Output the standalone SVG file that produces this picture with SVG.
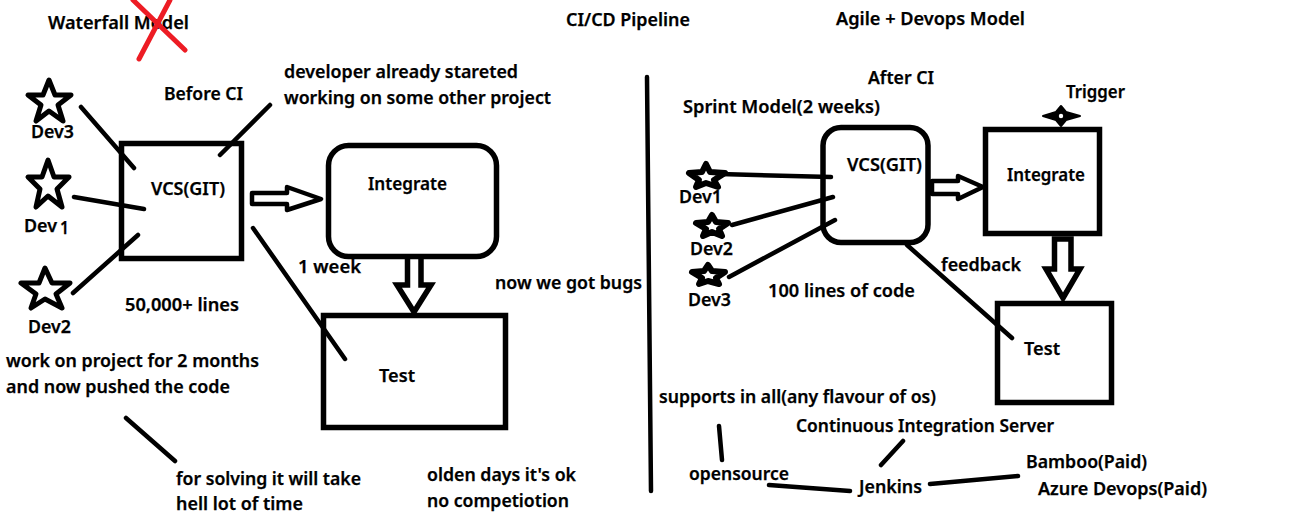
<svg xmlns="http://www.w3.org/2000/svg" width="1314" height="520" viewBox="0 0 1314 520">
<style>
text{font-family:"Noto Sans","Liberation Sans",sans-serif;font-weight:600;font-size:17.5px;fill:#000;stroke:#000;stroke-width:.25px}
.s{fill:#fff;stroke:#000;stroke-width:5;stroke-linejoin:round}
.r{fill:#fff;stroke:#000;stroke-width:6;stroke-linejoin:round}
.t{fill:none;stroke:#000;stroke-width:4.500;stroke-linejoin:round}
.b{fill:none;stroke:#000;stroke-width:5.500;stroke-linejoin:miter}
.l{fill:none;stroke:#000;stroke-width:4.500;stroke-linecap:round}
.x{fill:none;stroke:#ed1c24;stroke-width:5;stroke-linecap:round}
</style>
<rect width="1314" height="520" fill="#fff"/>
<g id="titles">
<text x="48" y="29" textLength="141" lengthAdjust="spacingAndGlyphs">Waterfall Model</text>
<text x="566" y="26" textLength="124" lengthAdjust="spacingAndGlyphs">CI/CD Pipeline</text>
<text x="836" y="25" textLength="189" lengthAdjust="spacingAndGlyphs">Agile + Devops Model</text>
<path class="x" d="M133 0L185 50M170 0L139 59"/>
</g>
<g id="connectors">
<path class="l" d="M81 107L134 168M74 197L144 209M73 293L138 235M270 105L220 155M253 228L345 359M126 418L175 461"/>
<path class="l" d="M720 174L831 177M732 225L833 197M729 277L835 220M907 245L1012 338"/>
<path class="l" d="M647 77L651 491"/>
<path class="l" d="M719 426L722 460M881 465L903 441M769 485L850 491M930 484L1018 476"/>
<path class="t" d="M252 193H287V187L321 199L287 210V204H252Z"/>
<path class="t" d="M932 181H958V176L983 187L958 199V194H932Z"/>
<path class="b" d="M407.500 258V285H397L414 312L431 285H421V258"/>
<path class="b" d="M1054.500 239V269H1046L1063 298L1080 269H1071V239Z"/>
</g>
<g id="dev3-left"><polygon class="s" points="49,80 55,95 71,95 58,105 63,121 49,111 36,121 41,105 28,95 43,95"/><text x="31" y="138" textLength="43" lengthAdjust="spacingAndGlyphs">Dev3</text></g>
<g id="dev1-left"><polygon class="s" points="48,160 54,177 69,177 57,189 62,207 48,196 36,207 40,189 28,177 42,177"/><text x="24" y="232" textLength="33" lengthAdjust="spacingAndGlyphs">Dev</text><text x="60" y="234" textLength="9" lengthAdjust="spacingAndGlyphs">1</text></g>
<g id="dev2-left"><polygon class="s" points="45,268 52,283 70,283 56,294 62,308 45,299 31,308 36,294 21,283 39,283"/><text x="28" y="333" textLength="43" lengthAdjust="spacingAndGlyphs">Dev2</text></g>
<g id="vcs-left"><rect class="b" x="121.500" y="143.500" width="120" height="115"/><text x="151" y="195" textLength="74" lengthAdjust="spacingAndGlyphs">VCS(GIT)</text></g>
<g id="integrate-left"><rect class="b" x="328.500" y="145.500" width="168" height="111" rx="20"/><text x="368" y="190" textLength="79" lengthAdjust="spacingAndGlyphs">Integrate</text></g>
<g id="test-left"><rect class="b" x="323.500" y="315.500" width="182" height="112"/><text x="379" y="382" textLength="36" lengthAdjust="spacingAndGlyphs">Test</text></g>
<g id="notes-left">
<text x="164" y="100" textLength="79" lengthAdjust="spacingAndGlyphs">Before CI</text>
<text x="284" y="78" textLength="234" lengthAdjust="spacingAndGlyphs">developer already stareted</text>
<text x="284" y="104" textLength="267" lengthAdjust="spacingAndGlyphs">working on some other project</text>
<text x="125" y="311" textLength="114" lengthAdjust="spacingAndGlyphs">50,000+ lines</text>
<text x="298" y="273" textLength="63" lengthAdjust="spacingAndGlyphs">1 week</text>
<text x="495" y="289" textLength="147" lengthAdjust="spacingAndGlyphs">now we got bugs</text>
<text x="6" y="367" textLength="253" lengthAdjust="spacingAndGlyphs">work on project for 2 months</text>
<text x="6" y="393" textLength="224" lengthAdjust="spacingAndGlyphs">and now pushed the code</text>
<text x="176" y="485" textLength="185" lengthAdjust="spacingAndGlyphs">for solving it will take</text>
<text x="176" y="510" textLength="127" lengthAdjust="spacingAndGlyphs">hell lot of time</text>
<text x="427" y="481" textLength="149" lengthAdjust="spacingAndGlyphs">olden days it's ok</text>
<text x="427" y="507" textLength="142" lengthAdjust="spacingAndGlyphs">no competiotion</text>
</g>
<g id="dev1-right"><polygon class="r" points="706,164 710,172 725,173 714,180 718,187 706,183 696,187 699,180 689,173 702,172"/><text x="679" y="203" textLength="43" lengthAdjust="spacingAndGlyphs">Dev1</text></g>
<g id="dev2-right"><polygon class="r" points="712,215 716,222 728,223 719,229 722,236 712,232 703,236 706,229 696,223 708,222"/><text x="690" y="255" textLength="43" lengthAdjust="spacingAndGlyphs">Dev2</text></g>
<g id="dev3-right"><polygon class="r" points="708,265 712,271 725,272 716,278 719,284 708,281 699,284 702,278 692,272 704,271"/><text x="688" y="306" textLength="43" lengthAdjust="spacingAndGlyphs">Dev3</text></g>
<g id="vcs-right"><rect class="b" x="823" y="127.500" width="105" height="115" rx="18"/><text x="847" y="171" textLength="75" lengthAdjust="spacingAndGlyphs">VCS(GIT)</text></g>
<g id="integrate-right"><rect class="b" x="985.500" y="129.500" width="114" height="104"/><text x="1007" y="181" textLength="78" lengthAdjust="spacingAndGlyphs">Integrate</text></g>
<g id="test-right"><rect class="b" x="997.500" y="303.500" width="114" height="99"/><text x="1024" y="355" textLength="36" lengthAdjust="spacingAndGlyphs">Test</text></g>
<g id="trigger"><polygon points="1061,106 1066,112 1080,116 1066,120 1061,126 1056,120 1043,116 1056,112" fill="#000" stroke="#000" stroke-width="2" stroke-linejoin="round"/><circle cx="1061" cy="116" r="2.200" fill="#fff"/><text x="1066" y="98" textLength="59" lengthAdjust="spacingAndGlyphs">Trigger</text></g>
<g id="notes-right">
<text x="868" y="84" textLength="66" lengthAdjust="spacingAndGlyphs">After CI</text>
<text x="683" y="113" textLength="197" lengthAdjust="spacingAndGlyphs">Sprint Model(2 weeks)</text>
<text x="768" y="297" textLength="147" lengthAdjust="spacingAndGlyphs">100 lines of code</text>
<text x="941" y="271" textLength="80" lengthAdjust="spacingAndGlyphs">feedback</text>
<text x="659" y="403" textLength="277" lengthAdjust="spacingAndGlyphs">supports in all(any flavour of os)</text>
<text x="796" y="432" textLength="258" lengthAdjust="spacingAndGlyphs">Continuous Integration Server</text>
<text x="689" y="480" textLength="100" lengthAdjust="spacingAndGlyphs">opensource</text>
<text x="859" y="493" textLength="63" lengthAdjust="spacingAndGlyphs">Jenkins</text>
<text x="1026" y="468" textLength="121" lengthAdjust="spacingAndGlyphs">Bamboo(Paid)</text>
<text x="1038" y="495" textLength="169" lengthAdjust="spacingAndGlyphs">Azure Devops(Paid)</text>
</g>
</svg>
